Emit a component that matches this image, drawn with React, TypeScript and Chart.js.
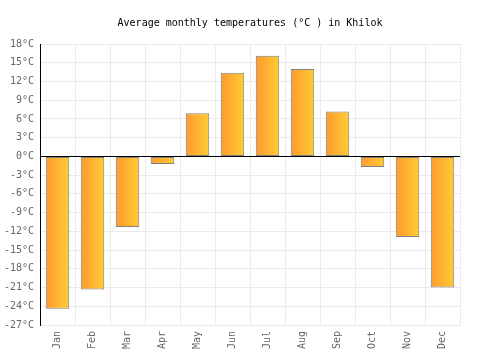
import React, { useEffect, useRef } from "react";
import { Chart, registerables } from "chart.js";

Chart.register(...registerables);

const months = ["Jan", "Feb", "Mar", "Apr", "May", "Jun", "Jul", "Aug", "Sep", "Oct", "Nov", "Dec"];
const temps = [-24.4, -21.3, -11.3, -1.2, 6.9, 13.4, 16.1, 14.0, 7.2, -1.7, -12.9, -21.0];
const yMin = -27;
const yMax = 18;
const yStep = 3;
const titleText = "Average monthly temperatures (°C ) in Khilok";

const FONT = "'DejaVu Sans Mono', monospace";
const BAR_PCT = 0.67;

export default function App() {
  const ref = useRef<HTMLCanvasElement>(null);
  useEffect(() => {
    if (!ref.current) return;
    const chart = new Chart(ref.current, {
      type: "bar",
      data: {
        labels: months,
        datasets: [
          {
            data: temps,
            borderColor: "#808080",
            borderWidth: 1,
            borderSkipped: false,
            barPercentage: BAR_PCT,
            categoryPercentage: 1,
            backgroundColor: (c: any) => {
              const ch = c.chart;
              const xs = ch.scales?.x;
              if (!xs || c.dataIndex === undefined) return "#FFB233";
              const cx = xs.getPixelForValue(c.dataIndex);
              const half = (xs.width / months.length) * BAR_PCT / 2;
              if (!isFinite(cx) || !isFinite(half) || half <= 0) return "#FFB233";
              const g = ch.ctx.createLinearGradient(cx - half, 0, cx + half, 0);
              g.addColorStop(0, "#FF9A30");
              g.addColorStop(1, "#FFCC33");
              return g;
            },
          },
        ],
      },
      options: {
        animation: false,
        responsive: false,
        maintainAspectRatio: false,
        layout: { padding: 0 },
        plugins: {
          legend: { display: false },
          tooltip: { enabled: false },
          title: {
            display: true,
            text: titleText,
            color: "#000",
            font: { family: FONT, size: 10, weight: "normal" },
            padding: { top: 17, bottom: 15 },
          },
        },
        scales: {
          x: {
            grid: { color: "#ebebeb", offset: true, drawTicks: false },
            border: { color: "#ebebeb" },
            ticks: {
              color: "#666",
              font: { family: FONT, size: 10 },
              minRotation: 90,
              maxRotation: 90,
              padding: 6,
            },
            afterFit: (s: any) => {
              s.height = 25;
            },
          },
          y: {
            min: yMin,
            max: yMax,
            grid: {
              color: (c: any) => (c.tick && c.tick.value === 0 ? "#000" : "#ebebeb"),
              drawTicks: false,
            },
            border: { color: "#000" },
            ticks: {
              stepSize: yStep,
              color: "#666",
              font: { family: FONT, size: 10 },
              padding: 6,
              callback: (v: any) => `${v}°C`,
            },
            afterFit: (s: any) => {
              s.width = 40;
            },
          },
          yRight: {
            position: "right",
            display: true,
            min: yMin,
            max: yMax,
            grid: { display: false, drawOnChartArea: false },
            border: { display: false },
            ticks: { display: false },
            afterFit: (s: any) => {
              s.width = 40;
            },
          },
        },
      },
    } as any);
    return () => chart.destroy();
  }, []);
  return (
    <div style={{ position: "absolute", left: 0, top: 0, width: 500, height: 350 }}>
      <canvas ref={ref} width={500} height={350} style={{ width: 500, height: 350 }} />
    </div>
  );
}
